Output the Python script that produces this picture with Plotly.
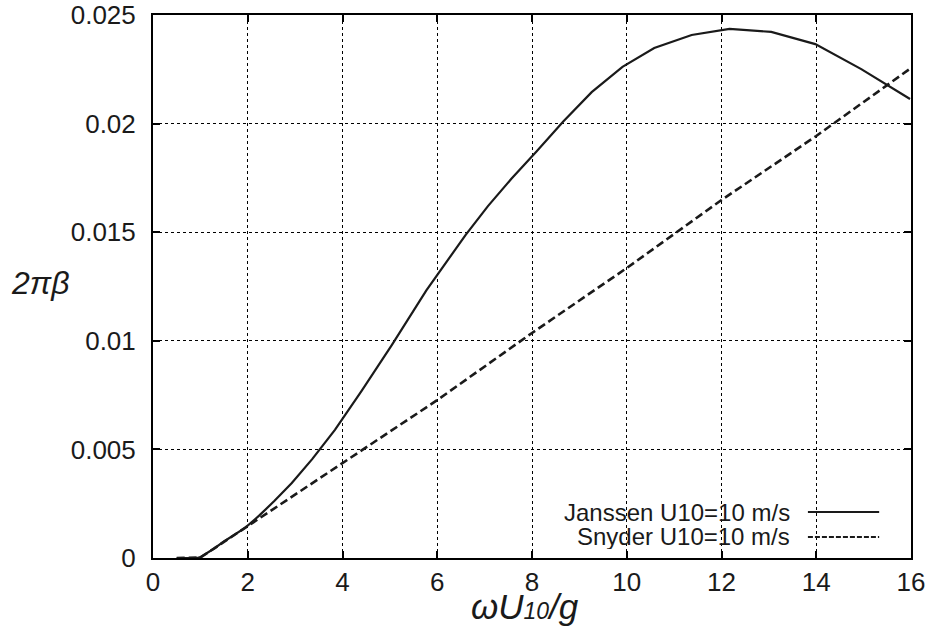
import plotly.graph_objects as go

# Janssen wind-input growth rate, U10 = 10 m/s
janssen_x = [0.5, 0.7, 0.93, 1.0, 1.14, 1.3, 1.49, 1.71, 1.95, 2.24, 2.56, 2.93,
             3.36, 3.84, 4.4, 5.04, 5.77, 6.6, 7.07, 7.56, 8.09, 8.66, 9.26,
             9.91, 10.58, 11.37, 12.17, 13.05, 13.98, 14.95, 15.98]
janssen_y = [0.0, 0.0, 0.0, 0.00004, 0.00022, 0.00045, 0.00075, 0.00105, 0.00140,
             0.00195, 0.00262, 0.00345, 0.00455, 0.00590, 0.00768, 0.00980,
             0.01232, 0.01488, 0.01620, 0.01745, 0.01870, 0.02010, 0.02145,
             0.02261, 0.02348, 0.02408, 0.02436, 0.02422, 0.02366, 0.02251, 0.02113]

# Snyder wind-input growth rate, U10 = 10 m/s
snyder_x = [0.5, 0.93, 1.0, 2.0, 4.0, 6.0, 8.0, 10.0, 12.0, 14.0, 16.0]
snyder_y = [0.0, 0.0, 0.00002, 0.00147, 0.00437, 0.00727, 0.01036, 0.01335,
            0.01648, 0.01943, 0.02256]

series_names = ["Janssen U10=10 m/s", "Snyder U10=10 m/s"]

x_ticks = [0, 2, 4, 6, 8, 10, 12, 14, 16]
y_ticks = [0, 0.005, 0.01, 0.015, 0.02, 0.025]
y_tick_text = ["0", "0.005", "0.01", "0.015", "0.02", "0.025"]

FONT = "Liberation Sans, Arial, sans-serif"
INK = "#1a1a1a"

fig = go.Figure()
fig.add_trace(go.Scatter(x=janssen_x, y=janssen_y, mode="lines", name=series_names[0],
                         line=dict(color=INK, width=2.2), showlegend=False))
fig.add_trace(go.Scatter(x=snyder_x, y=snyder_y, mode="lines", name=series_names[1],
                         line=dict(color=INK, width=2.6, dash="8px,4px"),
                         showlegend=False))

axis_common = dict(
    showline=True, linecolor="black", linewidth=2, mirror="ticks",
    ticks="inside", ticklen=7, tickwidth=1.5, tickcolor="black",
    showgrid=True, gridcolor="black", gridwidth=1, griddash="dot",
    zeroline=False, automargin=False, ticklabeloverflow="allow",
    tickfont=dict(family=FONT, size=26, color=INK),
)

fig.update_xaxes(range=[0, 16], tickvals=x_ticks, ticklabelstandoff=0, **axis_common)
fig.update_yaxes(range=[0, 0.025], tickvals=y_ticks, ticktext=y_tick_text,
                 ticklabelstandoff=10, **axis_common)

# Axis titles (horizontal y title, as in the reference)
fig.add_annotation(xref="paper", yref="paper", x=0.491, y=-0.09,
                   text="<i>ωU<span style='font-size:23px'>10</span>/g</i>",
                   showarrow=False, xanchor="center", yanchor="middle",
                   font=dict(family=FONT, size=35, color=INK))
fig.add_annotation(xref="paper", yref="paper", x=-0.149, y=0.506,
                   text="<i>2πβ</i>",
                   showarrow=False, xanchor="center", yanchor="middle",
                   font=dict(family=FONT, size=32, color=INK))

# Legend (text right-aligned, line sample on the right, gnuplot style)
legend_rows = [(series_names[0], 0.0847, None), (series_names[1], 0.0387, "5px,2px")]
for text, yp, dash in legend_rows:
    fig.add_annotation(xref="paper", yref="paper", x=0.842, y=yp, text=text,
                       showarrow=False, xanchor="right", yanchor="middle",
                       borderpad=0, height=25,
                       font=dict(family=FONT, size=24, color=INK))
    fig.add_shape(type="line", xref="paper", yref="paper", x0=0.864, x1=0.958,
                  y0=yp, y1=yp,
                  line=dict(color=INK, width=2 if dash is None else 1.8,
                            dash=dash if dash else "solid"))

fig.update_layout(
    width=933, height=639,
    margin=dict(l=153, r=22, t=15, b=81),
    plot_bgcolor="white", paper_bgcolor="white",
    font=dict(family=FONT, color=INK),
)

fig.write_html("out.html", config={"displayModeBar": False},
               post_script="document.body.style.margin='0px';document.body.style.overflow='hidden';")
